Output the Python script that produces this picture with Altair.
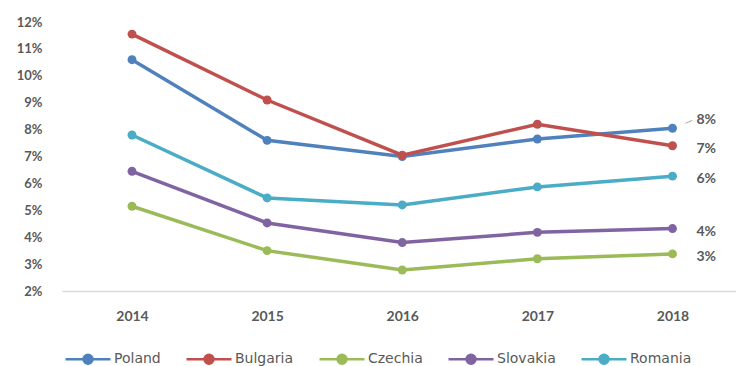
import altair as alt
import pandas as pd

# Annual values (%) per country
years = [2014, 2015, 2016, 2017, 2018]
countries = ["Poland", "Bulgaria", "Czechia", "Slovakia", "Romania"]
colors = ["#4F81BD", "#C0504D", "#9BBB59", "#8064A2", "#4BACC6"]
poland = [10.6, 7.6, 7.0, 7.65, 8.05]
bulgaria = [11.55, 9.1, 7.05, 8.2, 7.4]
czechia = [5.15, 3.5, 2.78, 3.2, 3.38]
slovakia = [6.45, 4.53, 3.8, 4.18, 4.32]
romania = [7.8, 5.46, 5.2, 5.87, 6.27]

series = dict(zip(countries, [poland, bulgaria, czechia, slovakia, romania]))
rows = [
    {"year": y, "country": c, "value": v}
    for c in countries
    for y, v in zip(years, series[c])
]
df = pd.DataFrame(rows)
last = df[df["year"] == years[-1]]

FONT = "Lato"
GREY = "#595959"

x = alt.X(
    "year:Q",
    scale=alt.Scale(domain=[2013.482, 2018.47], nice=False, zero=False),
    axis=alt.Axis(
        values=years, format="d", title=None, grid=False, ticks=False,
        domainColor="#D9D9D9", domainWidth=1.5, labelPadding=18,
        labelFontSize=14, labelColor=GREY, labelFont=FONT, labelFontWeight="bold",
    ),
)
y = alt.Y(
    "value:Q",
    scale=alt.Scale(domain=[2, 12], nice=False, zero=False),
    axis=alt.Axis(
        values=list(range(2, 13)), labelExpr="datum.value + '%'", title=None,
        grid=False, ticks=False, domain=False, labelPadding=20,
        labelFontSize=13, labelColor=GREY, labelFont=FONT, labelFontWeight="bold",
    ),
)
color_scale = alt.Scale(domain=countries, range=colors)

legend = alt.Legend(
    title=None, orient="none", direction="horizontal", legendX=2, legendY=313,
    symbolType="M-1,0L1,0M0.2,0A0.2,0.2,0,1,1,-0.2,0A0.2,0.2,0,1,1,0.2,0",
    symbolSize=2025, symbolStrokeWidth=2.5, labelFontSize=14, labelColor=GREY,
    labelFont="DejaVu Sans", labelOffset=2, columnPadding=20,
)

lines = alt.Chart(df).mark_line(strokeWidth=3.5).encode(
    x=x, y=y,
    color=alt.Color("country:N", scale=color_scale, sort=countries, legend=legend),
)
points = alt.Chart(df).mark_point(filled=True, size=80, opacity=1).encode(
    x=x, y=y,
    color=alt.Color("country:N", scale=color_scale, sort=countries, legend=legend),
)

label_style = dict(align="left", baseline="middle", dx=24, fontSize=14,
                   font=FONT, fontWeight="bold", color=GREY)
text_enc = dict(x=x, y=y, text=alt.Text("label:N"))
labels_main = alt.Chart(last).transform_filter(
    alt.datum.country != "Poland"
).transform_calculate(
    label="round(datum.value) + '%'"
).mark_text(dy=3, **label_style).encode(**text_enc)
labels_top = alt.Chart(last).transform_filter(
    alt.datum.country == "Poland"
).transform_calculate(
    label="round(datum.value) + '%'"
).mark_text(dy=-8, **label_style).encode(**text_enc)

leader = alt.Chart(last).transform_filter(
    alt.datum.country == "Poland"
).mark_rule(
    color="#A6A6A6", strokeWidth=1, xOffset=13, x2Offset=20, yOffset=-5, y2Offset=-8
).encode(x=x, x2="year:Q", y=y, y2="value:Q")

chart = alt.layer(lines, points, leader, labels_main, labels_top).properties(
    width=674, height=269,
    autosize=alt.AutoSizeParams(type="none"),
    padding={"left": 62, "top": 22, "right": 0, "bottom": 75},
).configure_view(stroke=None)

chart.save("out.html", embed_options={"renderer": "svg", "actions": False})
